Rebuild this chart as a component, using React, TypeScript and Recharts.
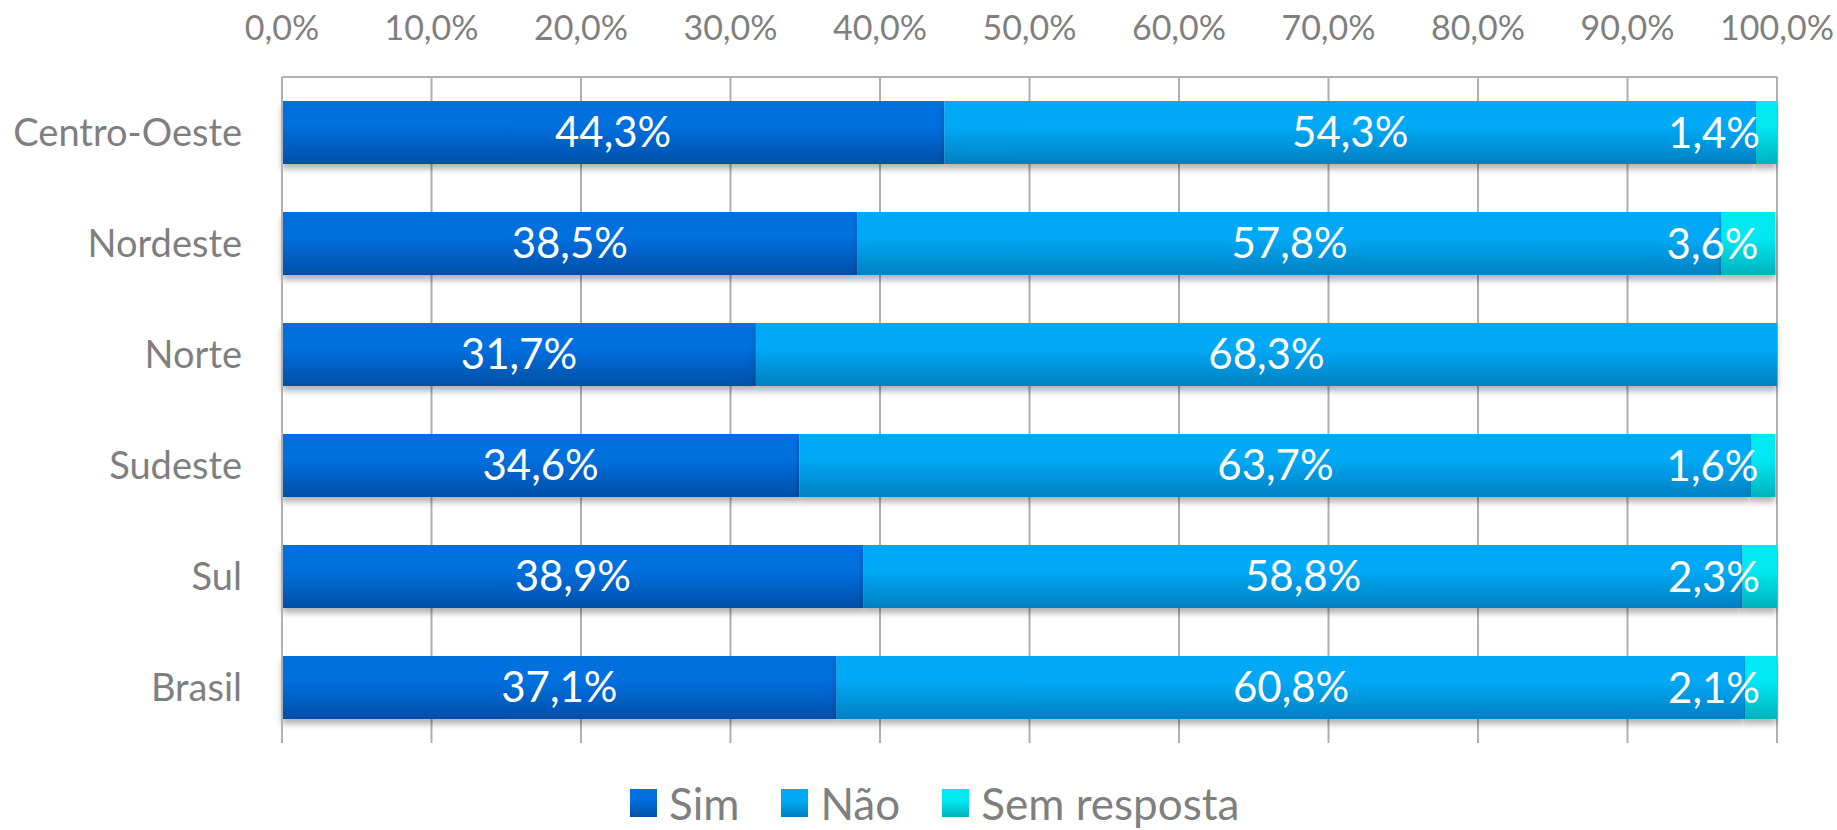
import { BarChart, Bar, XAxis, YAxis, CartesianGrid, Legend, LabelList } from "recharts";

const regions = ["Centro-Oeste", "Nordeste", "Norte", "Sudeste", "Sul", "Brasil"];
const sim = [44.3, 38.5, 31.7, 34.6, 38.9, 37.1];
const nao = [54.3, 57.8, 68.3, 63.7, 58.8, 60.8];
const semResposta = [1.4, 3.6, 0, 1.6, 2.3, 2.1];
const xTicks = [0, 10, 20, 30, 40, 50, 60, 70, 80, 90, 100];

const data = regions.map((region, i) => ({
    region,
    sim: sim[i],
    nao: nao[i],
    semResposta: semResposta[i],
}));

const series = [
    { key: "sim", name: "Sim", top: "#006fdf", bottom: "#004fa6" },
    { key: "nao", name: "Não", top: "#00a9f5", bottom: "#0080c2" },
    { key: "semResposta", name: "Sem resposta", top: "#00e9f3", bottom: "#00b2bc" },
];

const FONT = "Lato, 'Open Sans', sans-serif";
const fmt = (v: number) => v.toFixed(1).replace(".", ",") + "%";

const ShadowRect = (props: any) => {
    const { x, y, width, height, fill } = props;
    if (!width || width <= 0) return null;
    return <rect x={x} y={y} width={width} height={height} fill={fill} filter="url(#barShadow)" />;
};

// labels of the narrow last segment stay inside the plot, right aligned
const EndLabel = (props: any) => {
    const { x, y, width, height, value } = props;
    if (!value) return null;
    return (
        <text x={x + width - 17} y={y + height / 2} dy="0.36em" textAnchor="end"
            fill="#fff" fontSize={42} fontFamily={FONT}>
            {fmt(value)}
        </text>
    );
};

const renderLegend = () => (
    <div style={{ height: 87, position: "relative", fontFamily: FONT }}>
        <div style={{ position: "absolute", left: 630, top: 42, display: "flex", alignItems: "center" }}>
            {series.map((s) => (
                <div key={s.key} style={{ display: "flex", alignItems: "center", marginRight: 42 }}>
                    <div style={{
                        width: 27, height: 28, marginRight: 12,
                        background: `linear-gradient(${s.top} 40%, ${s.bottom})`,
                    }} />
                    <span style={{ fontSize: 44, color: "#7f7f7f", lineHeight: "36px" }}>{s.name}</span>
                </div>
            ))}
        </div>
    </div>
);

export default function App() {
    return (
        <div style={{ position: "absolute", left: 0, top: 0, background: "#fff" }}>
            <BarChart width={1837} height={830} data={data} layout="vertical" barSize={63}
                margin={{ top: 0, right: 60, left: 0, bottom: 0 }}>
                <defs>
                    {series.map((s) => (
                        <linearGradient key={s.key} id={`grad-${s.key}`} x1="0" y1="0" x2="0" y2="1">
                            <stop offset="0%" stopColor={s.top} />
                            <stop offset="40%" stopColor={s.top} />
                            <stop offset="100%" stopColor={s.bottom} />
                        </linearGradient>
                    ))}
                    <filter id="barShadow" x="-5%" y="-20%" width="110%" height="160%">
                        <feDropShadow dx="0" dy="5" stdDeviation="3" floodColor="#000" floodOpacity="0.3" />
                    </filter>
                </defs>
                <CartesianGrid horizontal={false} stroke="#b0b0b0" strokeWidth={2} />
                <XAxis type="number" orientation="top" domain={[0, 100]} ticks={xTicks} height={77}
                    tickFormatter={fmt} axisLine={{ stroke: "#b0b0b0", strokeWidth: 2 }} tickLine={false}
                    tickSize={0} tickMargin={37} interval={0}
                    tick={{ fill: "#7f7f7f", fontSize: 34, fontFamily: FONT }} />
                <YAxis type="category" dataKey="region" width={282}
                    axisLine={{ stroke: "#b0b0b0", strokeWidth: 2 }} tickLine={false} tickSize={0} tickMargin={40}
                    tick={{ fill: "#7f7f7f", fontSize: 38, fontFamily: FONT }} />
                <Legend content={renderLegend} verticalAlign="bottom" />
                <Bar dataKey="sim" name="Sim" stackId="a" fill="url(#grad-sim)" shape={ShadowRect} isAnimationActive={false}>
                    <LabelList dataKey="sim" position="center" formatter={(v: any) => fmt(v)}
                        fill="#fff" fontSize={42} fontFamily={FONT} />
                </Bar>
                <Bar dataKey="nao" name="Não" stackId="a" fill="url(#grad-nao)" shape={ShadowRect} isAnimationActive={false}>
                    <LabelList dataKey="nao" position="center" formatter={(v: any) => fmt(v)}
                        fill="#fff" fontSize={42} fontFamily={FONT} />
                </Bar>
                <Bar dataKey="semResposta" name="Sem resposta" stackId="a" fill="url(#grad-semResposta)" shape={ShadowRect} isAnimationActive={false}>
                    <LabelList dataKey="semResposta" content={EndLabel} />
                </Bar>
            </BarChart>
        </div>
    );
}
